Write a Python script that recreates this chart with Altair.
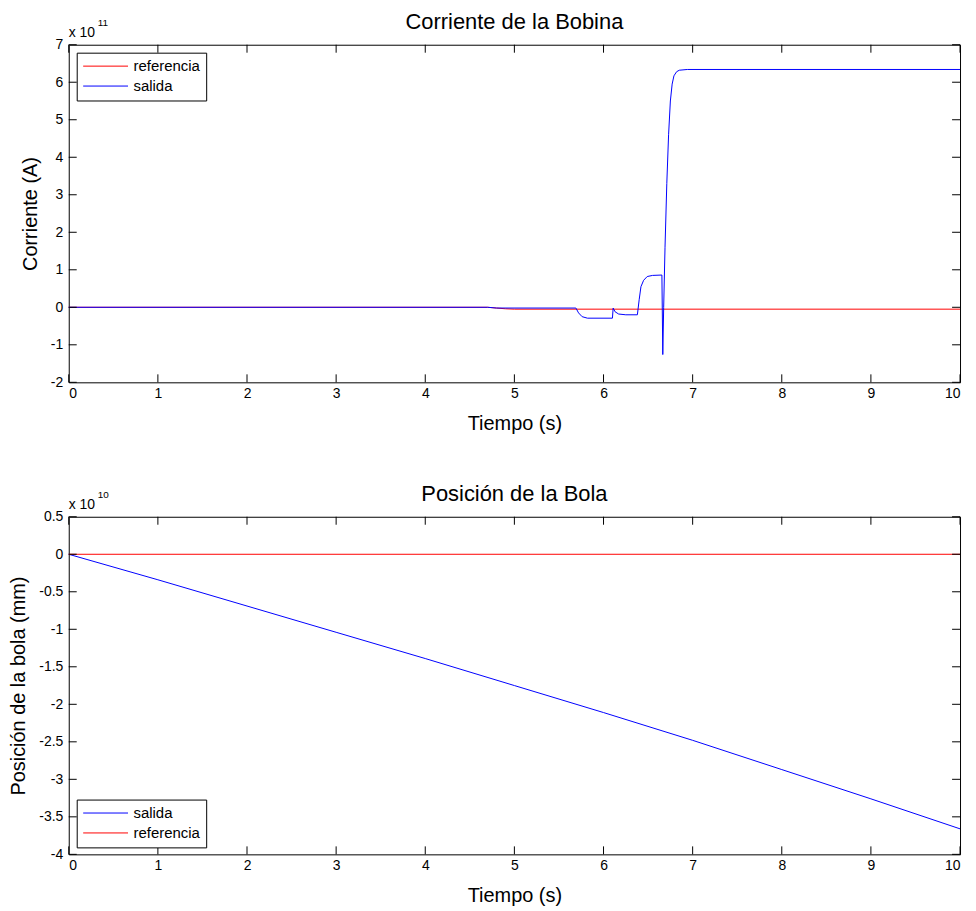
import altair as alt
import pandas as pd

FONT = "Liberation Sans"
W, H = 895, 339
TL = 8  # inward tick length

x_ticks = [0, 1, 2, 3, 4, 5, 6, 7, 8, 9, 10]

# ---- Top panel: Corriente de la Bobina (values in units of 1e11 A) ----
top_series = ["referencia", "salida"]
top_colors = ["#ff0000", "#0000ff"]
top_ref_t = [0.0, 4.7, 4.8, 4.9, 5.0, 10.0]
top_ref_v = [0.0, 0.0, -0.02, -0.04, -0.05, -0.05]
top_out_t = [0.0, 4.7, 4.8, 5.69, 5.72, 5.76, 5.82, 6.10, 6.108, 6.13, 6.17, 6.25,
             6.38, 6.40, 6.42, 6.45, 6.49, 6.55, 6.655, 6.665, 6.675, 6.69, 6.71,
             6.73, 6.75, 6.77, 6.79, 6.82, 6.85, 6.94, 10.0]
top_out_v = [0.0, 0.0, -0.02, -0.02, -0.15, -0.25, -0.29, -0.29, -0.02, -0.12, -0.18, -0.2,
             -0.2, 0.2, 0.55, 0.72, 0.82, 0.85, 0.86, -1.26, 0.0, 1.6, 3.3,
             4.6, 5.5, 5.95, 6.17, 6.28, 6.32, 6.34, 6.34]
top_y_ticks = [-2, -1, 0, 1, 2, 3, 4, 5, 6, 7]
top_y_domain = [-2, 7]

# ---- Bottom panel: Posición de la Bola (values in units of 1e10 mm) ----
bot_series = ["salida", "referencia"]
bot_colors = ["#0000ff", "#ff0000"]
bot_out_t = [0, 1, 2, 3, 4, 5, 6, 7, 8, 9, 10]
bot_out_v = [0.0, -0.34, -0.69, -1.04, -1.39, -1.75, -2.11, -2.48, -2.87, -3.26, -3.66]
bot_ref_t = [0, 10]
bot_ref_v = [0.0, 0.0]
bot_y_ticks = [-4, -3.5, -3, -2.5, -2, -1.5, -1, -0.5, 0, 0.5]
bot_y_domain = [-4, 0.5]


def make_df(parts):
    rows = []
    for name, ts, vs in parts:
        for i, (t, v) in enumerate(zip(ts, vs)):
            rows.append({"t": t, "v": v, "serie": name, "i": i})
    return pd.DataFrame(rows)


def panel(df, series, colors, yticks, ydom, title, ytitle, expo, legend_y):
    xenc = alt.X("t:Q", scale=alt.Scale(domain=[0, 10], nice=False, zero=False),
                 axis=alt.Axis(values=x_ticks, title="Tiempo (s)", grid=False, ticks=False,
                               domain=False, labelPadding=4, titlePadding=13,
                               labelExpr="datum.value + ''"))
    yenc = alt.Y("v:Q", scale=alt.Scale(domain=ydom, nice=False, zero=False),
                 axis=alt.Axis(values=yticks, title=ytitle, grid=False, ticks=False,
                               domain=False, labelPadding=6, titlePadding=10,
                               labelExpr="datum.value + ''"))
    lines = alt.Chart(df).mark_line(strokeWidth=1).encode(
        x=xenc, y=yenc, order="i:Q",
        color=alt.Color("serie:N", sort=series,
                        scale=alt.Scale(domain=series, range=colors),
                        legend=alt.Legend(title=None, orient="none", legendX=8, legendY=legend_y,
                                          direction="vertical", strokeColor="black",
                                          fillColor="white", padding=6, symbolType="stroke",
                                          symbolSize=2025, symbolStrokeWidth=1,
                                          labelFont=FONT, labelFontSize=15, labelColor="black",
                                          labelOffset=5, rowPadding=4, clipHeight=15,
                                          cornerRadius=0)))
    xt = alt.Chart(pd.DataFrame({"t": x_ticks}))
    xb = xt.mark_rule(color="black", strokeWidth=1).encode(x=xenc, y=alt.value(H), y2=alt.value(H - TL))
    xtop = xt.mark_rule(color="black", strokeWidth=1).encode(x=xenc, y=alt.value(0), y2=alt.value(TL))
    yt = alt.Chart(pd.DataFrame({"v": yticks}))
    yl = yt.mark_rule(color="black", strokeWidth=1).encode(y=yenc, x=alt.value(0), x2=alt.value(TL))
    yr = yt.mark_rule(color="black", strokeWidth=1).encode(y=yenc, x=alt.value(W - TL), x2=alt.value(W))
    ex = alt.Chart(pd.DataFrame({"s": ["x 10"]})).mark_text(
        align="left", baseline="alphabetic", fontSize=14, font=FONT, color="black"
    ).encode(text="s:N", x=alt.value(0), y=alt.value(-8))
    sup = alt.Chart(pd.DataFrame({"s": [expo]})).mark_text(
        align="left", baseline="alphabetic", fontSize=10, font=FONT, color="black"
    ).encode(text="s:N", x=alt.value(29), y=alt.value(-19))
    return alt.layer(lines, xb, xtop, yl, yr, ex, sup).properties(
        width=W, height=H,
        title=alt.TitleParams(title, fontSize=22, font=FONT, fontWeight="normal", color="black",
                              offset=-33, baseline="alphabetic", anchor="middle"))


top_df = make_df([("referencia", top_ref_t, top_ref_v), ("salida", top_out_t, top_out_v)])
bot_df = make_df([("salida", bot_out_t, bot_out_v), ("referencia", bot_ref_t, bot_ref_v)])

top = panel(top_df, top_series, top_colors, top_y_ticks, top_y_domain,
            "Corriente de la Bobina", "Corriente (A)", "11", 8)
bot = panel(bot_df, bot_series, bot_colors, bot_y_ticks, bot_y_domain,
            "Posición de la Bola", "Posición de la bola (mm)", "10", 284)

chart = alt.vconcat(top, bot, spacing=48).resolve_scale(color="independent").configure_view(
    stroke="black", strokeWidth=1
).configure_axis(
    labelFont=FONT, labelFontSize=14, labelColor="black",
    titleFont=FONT, titleFontSize=20, titleFontWeight="normal", titleColor="black"
).properties(padding={"left": 0, "top": 0, "right": 5, "bottom": 0}, background="white")

chart.save("out.html", embed_options={"renderer": "svg", "actions": False})
